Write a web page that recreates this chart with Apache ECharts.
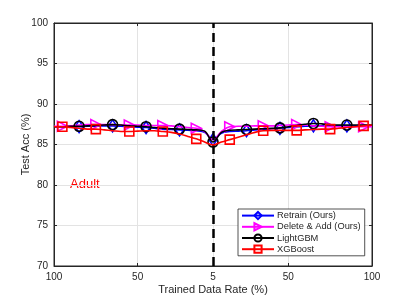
<!DOCTYPE html>
<html>
<head>
<meta charset="utf-8">
<script src="https://cdn.jsdelivr.net/npm/echarts@6/dist/echarts.min.js"></script>
<style>html,body{margin:0;padding:0;background:#fff}#c{width:411px;height:299px}</style>
</head>
<body>
<div id="c"></div>
<script>
// x positions: trained data rate going 100 -> 5 (left half) then 5 -> 100 (right half)
const rates = [100,95,90,85,80,75,70,65,60,55,50,45,40,35,30,25,20,15,10,5,
               10,15,20,25,30,35,40,45,50,55,60,65,70,75,80,85,90,95,100];
const tickIdx = [0,10,19,28,38];
const yTicks = [70,75,80,85,90,95,100];

const retrain = [87.2,87.2,87.2,87.2,87.25,87.25,87.3,87.3,87.25,87.2,87.15,87.1,87.0,86.9,86.85,86.8,86.75,86.7,86.5,85.6,
                 86.4,86.6,86.65,86.7,86.8,86.85,86.95,87.0,87.1,87.2,87.25,87.3,87.3,87.3,87.3,87.3,87.3,87.3,87.3];
const deleteAdd = [87.25,87.25,87.3,87.4,87.45,87.45,87.45,87.45,87.4,87.4,87.4,87.35,87.35,87.35,87.3,87.2,87.1,87.0,86.6,85.6,
                   86.6,87.2,87.25,87.25,87.3,87.3,87.3,87.35,87.4,87.45,87.4,87.3,87.25,87.2,87.2,87.2,87.2,87.2,87.2];
const lightgbm = [87.2,87.2,87.25,87.25,87.3,87.35,87.4,87.45,87.4,87.3,87.25,87.2,87.1,87.0,86.95,86.9,86.85,86.8,86.65,85.3,
                  86.5,86.75,86.8,86.85,86.9,86.95,87.0,87.05,87.2,87.35,87.5,87.6,87.55,87.45,87.4,87.4,87.4,87.4,87.4];
const xgboost = [87.2,87.2,87.1,87.0,86.9,86.9,86.8,86.7,86.6,86.6,86.65,86.7,86.7,86.6,86.5,86.3,86.0,85.7,85.3,84.95,
                 85.3,85.6,85.9,86.2,86.5,86.7,86.75,86.75,86.75,86.75,86.8,86.85,86.9,86.9,87.0,87.1,87.2,87.3,87.4];

const markA = [1,5,9,13,17,21,25,29,33,37];   // squares / triangles
const markB = [3,7,11,15,19,23,27,31,35];     // diamonds / circles

function mk(vals, marks) {
  return vals.map((v, i) => marks.includes(i) ? v : {value: v, symbol: 'none'});
}

const chart = echarts.init(document.getElementById('c'), null, {renderer: 'canvas'});
const txt = '#262626';
function series(name, vals, marks, color, symbol, size, rot, z) {
  return {
    name, type: 'line', data: mk(vals, marks), smooth: 0.35, showAllSymbol: true,
    symbol, symbolSize: size, symbolRotate: rot || 0, z,
    lineStyle: {color, width: 1.6},
    itemStyle: {color: 'rgba(255,255,255,0)', borderColor: color, borderWidth: 1.6},
    emphasis: {disabled: true}, animation: false
  };
}
const s = [
  series('Retrain (Ours)', retrain, markB, '#0000ff', 'diamond', [8, 12], 0, 2),
  series('Delete & Add (Ours)', deleteAdd, markA, '#ff00ff', 'triangle', 10, -90, 3),
  series('LightGBM', lightgbm, markB, '#000000', 'circle', 10, 0, 4),
  series('XGBoost', xgboost, markA, '#ff0000', 'rect', 9, 0, 5)
];
s[0].markLine = {
  silent: true, symbol: 'none', label: {show: false},
  lineStyle: {color: '#000', width: 2.5, type: [9, 5]},
  data: [{xAxis: 19}]
};
const tickFn = (i) => tickIdx.includes(i);
chart.setOption({
  animation: false,
  grid: {left: 54, right: 39, top: 23, bottom: 33, show: true, borderColor: txt, borderWidth: 1,
         outerBoundsMode: 'none', containLabel: false},
  xAxis: [{
    type: 'category', data: rates.map((r, i) => String(i)), boundaryGap: false,
    name: 'Trained Data Rate (%)', nameLocation: 'middle', nameGap: 18, nameMoveOverlap: false,
    nameTextStyle: {color: txt, fontSize: 11, fontFamily: 'Liberation Sans'},
    axisLine: {lineStyle: {color: txt}},
    axisTick: {inside: true, length: 3, interval: tickFn, lineStyle: {color: txt}},
    axisLabel: {interval: tickFn, color: txt, fontSize: 10, fontFamily: 'Liberation Sans', margin: 6,
      formatter: (v) => String(rates[+v])},
    splitLine: {show: true, interval: tickFn, lineStyle: {color: '#e3e3e3', width: 1}}
  }, {
    type: 'category', data: rates.map((r, i) => String(i)), boundaryGap: false, position: 'top',
    axisLine: {lineStyle: {color: txt}},
    axisTick: {inside: true, length: 3, interval: tickFn, lineStyle: {color: txt}},
    axisLabel: {show: false}, splitLine: {show: false}
  }],
  yAxis: [{
    type: 'value', min: 70, max: 100, interval: 5,
    name: 'Test Acc (%)', nameLocation: 'middle', nameGap: 23, nameMoveOverlap: false,
    nameTextStyle: {color: txt, fontSize: 11, fontFamily: 'Liberation Sans'},
    axisLine: {show: true, lineStyle: {color: txt}},
    axisTick: {show: true, inside: true, length: 3, lineStyle: {color: txt}},
    axisLabel: {color: txt, fontSize: 10, fontFamily: 'Liberation Sans', margin: 6,
      formatter: (v) => yTicks.includes(v) ? String(v) : ''},
    splitLine: {show: true, lineStyle: {color: '#e3e3e3', width: 1}}
  }, {
    type: 'value', min: 70, max: 100, interval: 5, position: 'right',
    axisLine: {show: true, lineStyle: {color: txt}},
    axisTick: {show: true, inside: true, length: 3, lineStyle: {color: txt}},
    axisLabel: {show: false}, splitLine: {show: false}
  }],
  legend: {
    orient: 'vertical', left: 238, top: 209, width: 120,
    data: s.map(x => x.name),
    itemWidth: 32, itemHeight: 9, itemGap: 2,
    padding: [2, 4, 2, 3],
    backgroundColor: '#fff', borderColor: txt, borderWidth: 0.8, borderRadius: 0,
    textStyle: {color: txt, fontSize: 9.3, fontFamily: 'Liberation Sans', padding: [0, 0, 0, -2]},
    selectedMode: false
  },
  graphic: [{
    type: 'text', left: 70, top: 178,
    style: {text: 'Adult', fill: '#ff0000', fontSize: 13, fontFamily: 'Liberation Sans'}
  }],
  series: s
});
</script>
</body>
</html>
